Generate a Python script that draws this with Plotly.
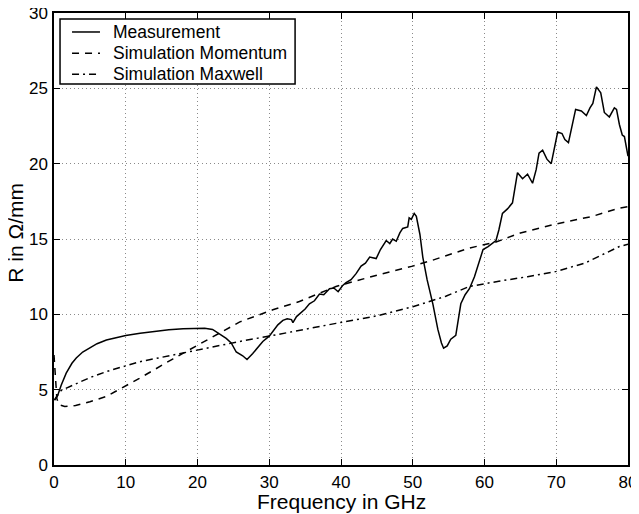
import plotly.graph_objects as go

# Measurement
meas_f = [0.1, 0.5, 1.0, 1.7, 2.5, 3.1, 4, 5, 6, 7.3, 8.5, 10, 12, 14, 16, 18, 20, 21, 22.1,
          23.3, 24.0, 24.7, 25.4, 26.3, 26.9, 27.7, 28.4, 29.1, 30.0, 30.5, 31.2, 31.9, 32.5,
          33.1, 33.3, 33.8, 34.2, 35.0, 35.6, 36.3, 37.0, 37.6, 38.4, 39.0, 39.6, 40.2, 40.7,
          41.4, 42.1, 42.8, 43.4, 44.0, 44.9, 45.5, 46.3, 46.8, 47.2, 47.7, 48.2, 48.6, 49.3,
          49.5, 49.8, 50.2, 50.5, 51.0, 51.4, 52.0, 52.8, 53.5, 54.0, 54.3, 54.8, 55.3, 56.0,
          56.3, 56.7, 57.3, 57.9, 58.6, 59.3, 59.8, 60.5, 61.0, 61.6, 62.0, 62.5, 63.2, 63.9,
          64.6, 65.3, 66.0, 66.7, 67.2, 67.6, 68.1, 68.7, 69.3, 70.2, 70.8, 71.2, 71.7, 72.2,
          72.7, 73.5, 74.2, 74.7, 75.1, 75.6, 76.2, 76.7, 77.4, 78.1, 78.4, 78.8, 79.2, 79.5, 80]
meas_r = [4.3, 4.6, 5.3, 6.1, 6.75, 7.1, 7.5, 7.8, 8.05, 8.3, 8.45, 8.6, 8.75, 8.88, 8.97, 9.05,
          9.1, 9.08, 9.0, 8.65, 8.4, 8.1, 7.5, 7.25, 7.0, 7.4, 7.8, 8.2, 8.55, 8.85, 9.3, 9.6,
          9.7, 9.65, 9.45, 9.85, 10.0, 10.35, 10.7, 10.9, 11.35, 11.3, 11.7, 11.75, 11.5, 11.9,
          12.1, 12.3, 12.7, 13.2, 13.4, 13.8, 13.7, 14.3, 14.9, 14.7, 15.0, 14.85, 15.4, 15.7,
          15.8, 16.4, 16.3, 16.7, 16.5, 15.3, 13.8, 12.3, 10.7, 9.0, 8.1, 7.75, 7.9, 8.35, 8.6,
          9.6, 10.7, 11.3, 11.7, 12.5, 13.6, 14.3, 14.5, 14.7, 14.9, 15.6, 16.7, 17.0, 17.4,
          19.4, 19.0, 19.3, 18.7, 19.6, 20.7, 20.9, 20.3, 20.0, 22.1, 22.0, 21.6, 21.4, 22.4,
          23.6, 23.5, 23.2, 23.7, 24.0, 25.1, 24.7, 23.4, 23.1, 23.7, 23.6, 22.6, 21.9, 21.8, 20.5]

# Simulation Momentum
mom_f = [0, 0.2, 0.4, 0.7, 1.5, 3, 5, 7.3, 11.9, 16.6, 21.2, 25.9, 30.5, 34.2, 39.3, 45, 50,
         52.8, 57.9, 61.6, 65, 70, 75, 78.8, 80]
mom_r = [7.3, 5.6, 4.4, 4.0, 3.88, 3.95, 4.2, 4.55, 5.75, 7.05, 8.25, 9.5, 10.3, 10.85, 11.85,
         12.6, 13.2, 13.6, 14.4, 14.8, 15.4, 16.0, 16.5, 17.05, 17.15]

# Simulation Maxwell
max_f = [0.05, 0.3, 1, 2.6, 5, 7.3, 11.9, 16.6, 21.2, 25.9, 30.5, 34.2, 39.3, 45, 50, 54.6,
         57.9, 62, 66, 70, 74, 78.8, 80]
max_r = [4.3, 4.5, 4.95, 5.3, 5.8, 6.2, 6.85, 7.3, 7.75, 8.2, 8.6, 8.95, 9.4, 9.9, 10.5, 11.2,
         11.85, 12.2, 12.5, 12.85, 13.4, 14.5, 14.65]

series_names = ["Measurement", "Simulation Momentum", "Simulation Maxwell"]
x_ticks = [0, 10, 20, 30, 40, 50, 60, 70, 80]
y_ticks = [0, 5, 10, 15, 20, 25, 30]

FONT = "Liberation Sans, Arial, Helvetica, sans-serif"
DASHES = ["solid", "7px,6px", "7px,4px,2px,4px"]

fig = go.Figure()
for xs, ys, name, dash in zip([meas_f, mom_f, max_f], [meas_r, mom_r, max_r],
                              series_names, DASHES):
    fig.add_trace(go.Scatter(x=xs, y=ys, mode="lines", name=name, showlegend=False,
                             line=dict(color="black", width=1.5, dash=dash)))

axis_common = dict(
    showline=True, linecolor="black", linewidth=1.5, mirror="ticks",
    ticks="inside", ticklen=6, tickwidth=1, tickcolor="black",
    showgrid=True, gridcolor="#8a8a8a", gridwidth=1, griddash="1px,3px",
    zeroline=False, automargin=False, ticklabeloverflow="allow",
    tickfont=dict(size=17, color="black", family=FONT),
)

fig.update_xaxes(range=[0, 80], tickvals=x_ticks, ticklabelstandoff=1, **axis_common)
fig.update_yaxes(range=[0, 30], tickvals=y_ticks, ticklabelstandoff=1, **axis_common)

# axis titles
fig.add_annotation(text="Frequency in GHz", xref="paper", yref="paper",
                   x=0.5, y=-0.05, xanchor="center", yanchor="top", showarrow=False,
                   font=dict(size=21, color="black", family=FONT))
fig.add_annotation(text="R in Ω/mm", xref="paper", yref="paper",
                   x=-0.067, y=0.513, xanchor="center", yanchor="middle", showarrow=False,
                   textangle=-90, font=dict(size=21, color="black", family=FONT))

# legend box (drawn to match the reference's compact legend)
fig.add_shape(type="rect", xref="paper", yref="paper", x0=0.0105, x1=0.42, y0=0.843, y1=0.9867,
              line=dict(color="black", width=1.5), fillcolor="white", layer="above")
row_y = [0.958, 0.911, 0.8645]
for name, dash, yy in zip(series_names, DASHES, row_y):
    fig.add_shape(type="line", xref="paper", yref="paper", x0=0.0314, x1=0.0801, y0=yy, y1=yy,
                  line=dict(color="black", width=1.5, dash=dash), layer="above")
    fig.add_annotation(text=name, xref="paper", yref="paper", x=0.1, y=yy,
                       xanchor="left", yanchor="middle", showarrow=False,
                       font=dict(size=17.5, color="black", family=FONT))

fig.update_layout(
    width=631, height=506,
    margin=dict(l=46, r=11, t=5, b=49),
    paper_bgcolor="white", plot_bgcolor="white",
    font=dict(family=FONT, color="black"),
    showlegend=False,
)

fig.write_html("out.html")
